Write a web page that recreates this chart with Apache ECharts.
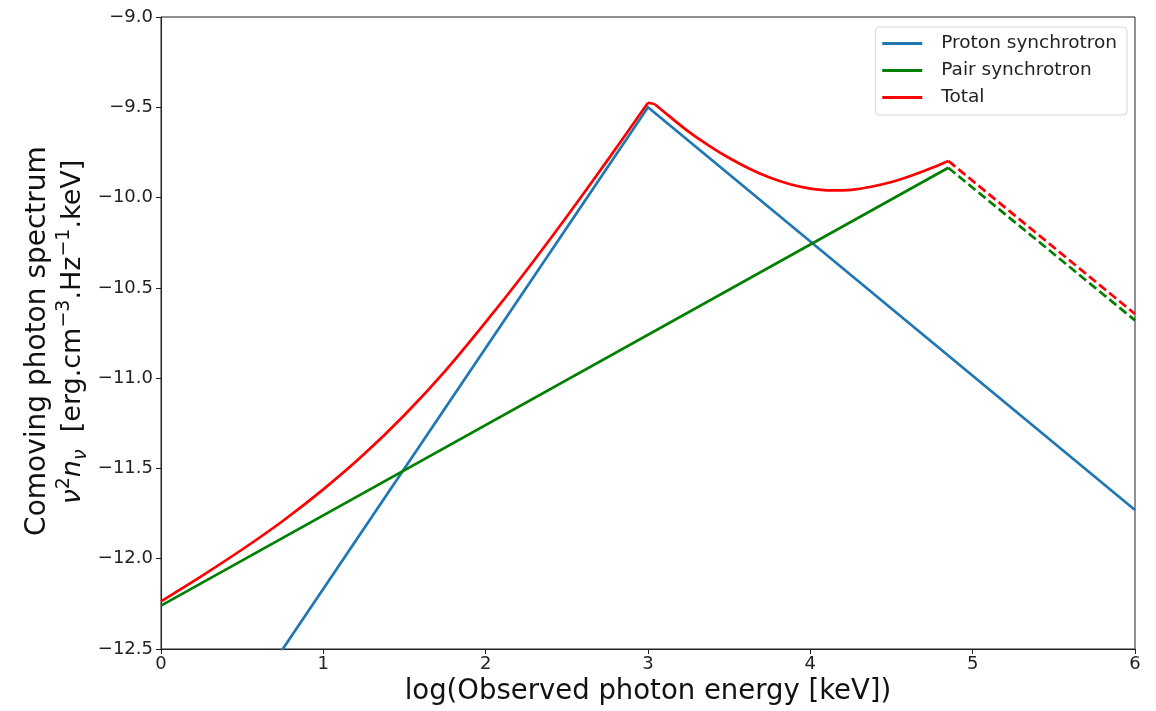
<!DOCTYPE html>
<html>
<head>
<meta charset="utf-8">
<script src="https://cdn.jsdelivr.net/npm/echarts@6/dist/echarts.min.js"></script>
<style>html,body{margin:0;padding:0;background:#fff}#c{width:1156px;height:711px}</style>
</head>
<body>
<div id="c"></div>
<script>
// Data
const protonX = [0, 3, 6];
const protonY = [-13.5, -9.5, -11.73];
const pairX = [0, 4.85];
const pairY = [-12.26, -9.835];
const pairDashX = [4.85, 6];
const pairDashY = [-9.835, -10.68];
const totalRiseX = [0, 0.25, 0.5, 0.75, 1.0, 1.25, 1.5, 1.75, 2.0, 2.25, 2.5, 2.75, 3.0];
const totalRiseY = [-12.236, -12.096, -11.949, -11.791, -11.616, -11.422, -11.204, -10.961, -10.69, -10.405, -10.105, -9.794, -9.475];
const totalTopX = [3.0, 3.04];
const totalTopY = [-9.475, -9.482];
const totalFallX = [3.04, 3.125, 3.25, 3.375, 3.5, 3.625, 3.75, 3.875, 4.0, 4.125, 4.25, 4.375, 4.5, 4.625, 4.75, 4.85];
const totalFallY = [-9.482, -9.545, -9.635, -9.712, -9.781, -9.84, -9.889, -9.926, -9.95, -9.96, -9.957, -9.94, -9.914, -9.878, -9.835, -9.797];
const totalDashX = [4.85, 6];
const totalDashY = [-9.797, -10.645];
const xTicks = [0, 1, 2, 3, 4, 5, 6];
const yTicks = [-12.5, -12.0, -11.5, -11.0, -10.5, -10.0, -9.5, -9.0];
const seriesNames = ['Proton synchrotron', 'Pair synchrotron', 'Total'];

const zip = (xs, ys) => xs.map((x, i) => [x, ys[i]]);
const FONT = 'DejaVu Sans';
const chart = echarts.init(document.getElementById('c'), null, {renderer: 'canvas'});

const mkLine = (name, xs, ys, color, dashed, z, smooth) => ({
  name, type: 'line', data: zip(xs, ys), showSymbol: false, symbol: 'none',
  clip: true, animation: false, z: z,
  smooth: smooth ? 0.3 : false,
  lineStyle: {color, width: 2.7, type: dashed ? [9, 4] : 'solid', cap: 'butt', join: 'round'},
  itemStyle: {color}
});

chart.setOption({
  animation: false,
  grid: {left: 161, right: 21, top: 17, bottom: 62, show: true, borderColor: '#222', borderWidth: 1},
  legend: {
    data: seriesNames, orient: 'vertical', right: 29, top: 27,
    icon: 'rect', itemWidth: 40, itemHeight: 3, itemGap: 8,
    padding: [7, 10, 8, 7], borderColor: '#d6d6d6', borderWidth: 1, borderRadius: 4,
    backgroundColor: 'rgba(255,255,255,0.8)',
    textStyle: {fontFamily: FONT, fontSize: 18.5, lineHeight: 19, color: '#222', padding: [0, 0, 0, 14]}
  },
  xAxis: {
    type: 'value', min: 0, max: 6, interval: 1,
    name: 'log(Observed photon energy [keV])', nameLocation: 'middle', nameGap: 27,
    nameTextStyle: {fontFamily: FONT, fontSize: 27.5, color: '#111'},
    axisLine: {show: true, onZero: false, lineStyle: {color: '#222', width: 1}},
    axisTick: {show: true, length: 5, lineStyle: {color: '#222'}},
    axisLabel: {fontFamily: FONT, fontSize: 18, color: '#222', margin: 6,
      formatter: v => xTicks.includes(v) ? String(v) : ''},
    splitLine: {show: false}
  },
  yAxis: {
    type: 'value', min: -12.5, max: -9.0, interval: 0.5,
    axisLine: {show: true, onZero: false, lineStyle: {color: '#222', width: 1}},
    axisTick: {show: true, length: 5, lineStyle: {color: '#222'}},
    axisLabel: {fontFamily: FONT, fontSize: 18, color: '#222', margin: 8,
      formatter: v => yTicks.some(t => Math.abs(t - v) < 1e-9) ? v.toFixed(1).replace('-', '\u2212') : ''},
    splitLine: {show: false}
  },
  graphic: [{
    type: 'text', silent: true,
    x: 38, y: 341, rotation: Math.PI / 2,
    style: {
      text: 'Comoving photon spectrum',
      font: '28px "DejaVu Sans"', fill: '#111',
      align: 'center', verticalAlign: 'middle'
    }
  }, {
    type: 'text', silent: true,
    x: 73, y: 332, rotation: Math.PI / 2,
    style: {
      text: '{i|\u03bd}{sup|2}{i|n}{sub|\u03bd}  {t|[erg.cm}{sup|\u22123}{t|.Hz}{sup|\u22121}{t|.keV]}',
      font: '27px "DejaVu Sans"', fill: '#111',
      align: 'center', verticalAlign: 'middle',
      rich: {
        t: {fontFamily: FONT, fontSize: 27, fill: '#111', lineHeight: 36, verticalAlign: 'middle'},
        i: {fontFamily: FONT, fontStyle: 'italic', fontSize: 27, fill: '#111', lineHeight: 36, verticalAlign: 'middle'},
        sup: {fontFamily: FONT, fontSize: 19, fill: '#111', lineHeight: 36, verticalAlign: 'top'},
        sub: {fontFamily: FONT, fontStyle: 'italic', fontSize: 19, fill: '#111', lineHeight: 36, verticalAlign: 'bottom'}
      }
    }
  }],
  series: [
    mkLine('Proton synchrotron', protonX, protonY, '#1f77b4', false, 2, false),
    mkLine('Pair synchrotron', pairX, pairY, '#008000', false, 3, false),
    mkLine('Pair dashed', pairDashX, pairDashY, '#008000', true, 3, false),
    mkLine('Total', totalRiseX, totalRiseY, '#ff0000', false, 4, true),
    mkLine('Total', totalTopX, totalTopY, '#ff0000', false, 4, false),
    mkLine('Total', totalFallX, totalFallY, '#ff0000', false, 4, true),
    mkLine('Total dashed', totalDashX, totalDashY, '#ff0000', true, 4, false)
  ]
});
</script>
</body>
</html>
